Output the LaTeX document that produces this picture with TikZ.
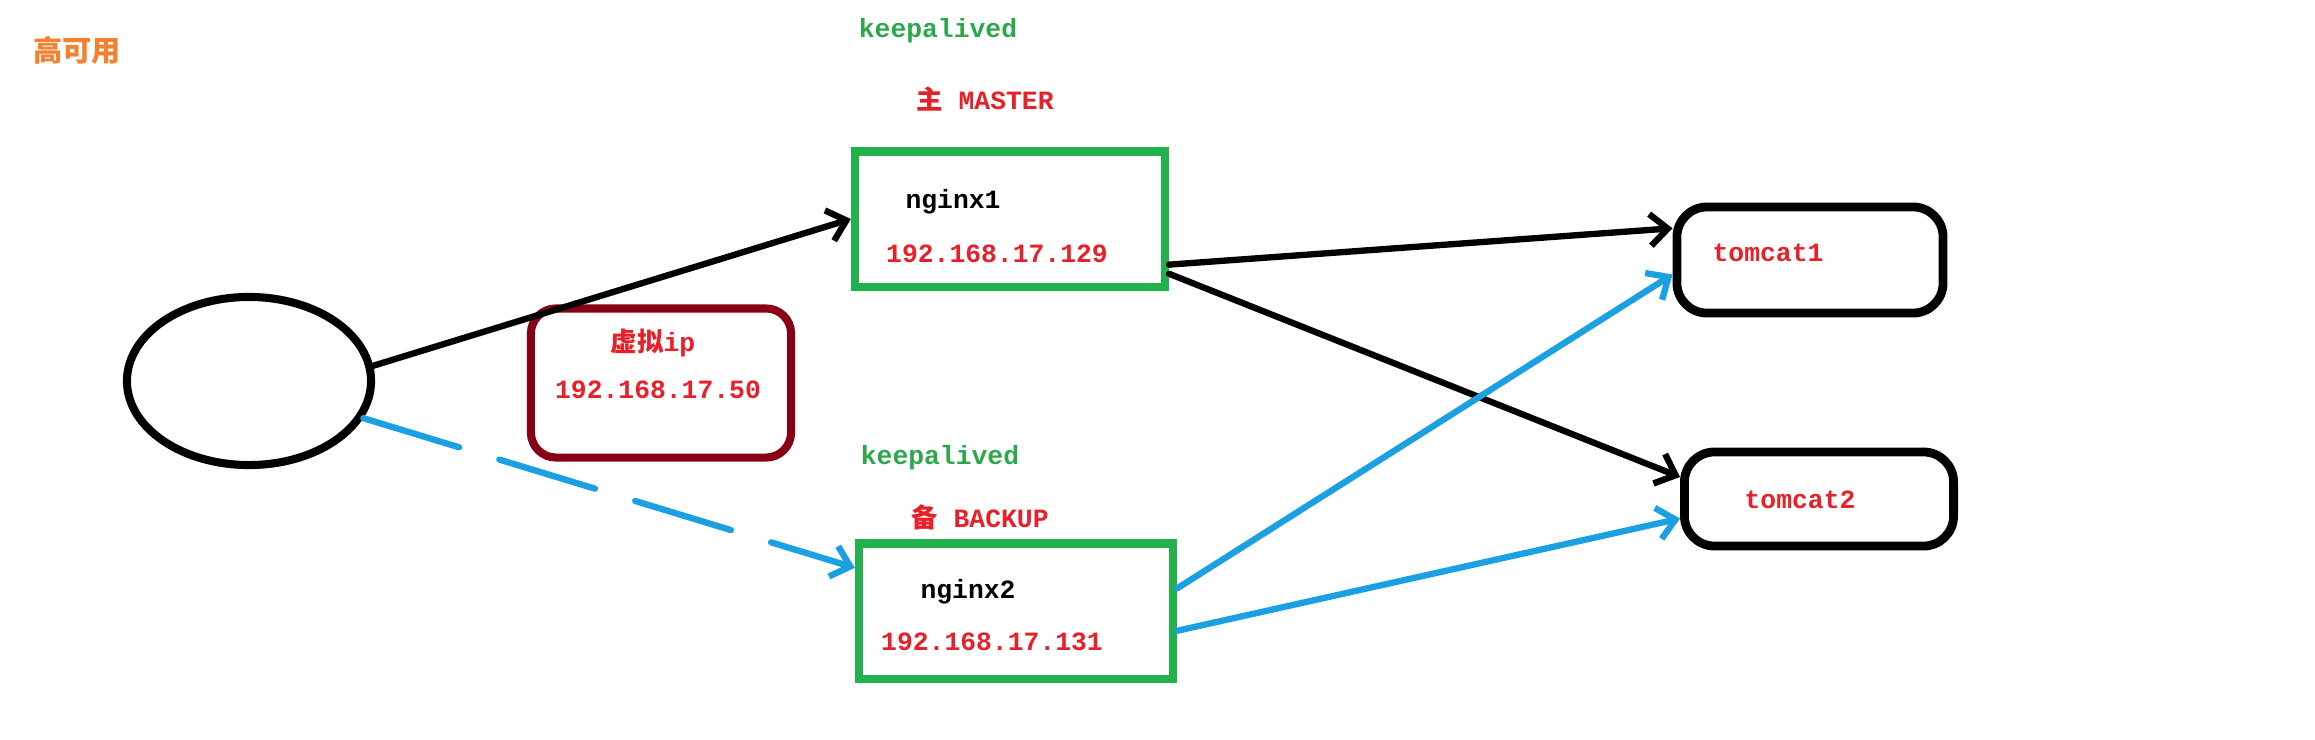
\documentclass[tikz,border=0pt]{standalone}
\usepackage{fontspec}
\setmainfont{Liberation Mono}
\newfontfamily\cjk{Noto Sans CJK SC}
\usetikzlibrary{arrows.meta,shapes.geometric}

\definecolor{boxgreen}{HTML}{22B14C}
\definecolor{txtgreen}{HTML}{2BA84A}
\definecolor{txtred}{HTML}{E8202A}
\definecolor{vipred}{HTML}{880015}
\definecolor{lineblue}{HTML}{1BA1E2}
\definecolor{titleorange}{HTML}{F3812F}

\begin{document}
\begin{tikzpicture}[x=0.01cm,y=-0.01cm,
    txt/.style={inner sep=0pt,font=\bfseries\fontsize{7.5}{9}\selectfont},
    server/.style={draw=boxgreen,line width=2.3pt,minimum width=3.1cm,minimum height=1.35cm,inner sep=0pt},
    tomcatbox/.style={draw=black,line width=2.5pt,rounded corners=0.3cm,inner sep=0pt},
    link/.style={line width=1.8pt,line cap=round,-{Straight Barb[length=5pt,width=9pt]}}]
        \useasboundingbox (0,0) rectangle (2315,739);
        \node (title)   at (77,50)   [txt,text=titleorange] {\cjk\fontsize{8.3}{10}\selectfont 高可用};
        \node (client)  at (249,381) [draw,ellipse,line width=2.3pt,minimum width=2.44cm,minimum height=1.68cm,inner sep=0pt] {};
        \node (vip)     at (661,383) [draw=vipred,line width=2.3pt,rounded corners=0.25cm,minimum width=2.6cm,minimum height=1.49cm,inner sep=0pt] {};
        \node (nginx1)  at (1010,219) [server] {};
        \node (nginx2)  at (1016,611) [server,minimum width=3.14cm] {};
        \node (tomcat1) at (1810,260) [tomcatbox,minimum width=2.66cm,minimum height=1.06cm] {};
        \node (tomcat2) at (1819,499) [tomcatbox,minimum width=2.69cm,minimum height=0.94cm] {};
        %% labels
        \node (kaTop)   at (938,31)  [txt,text=txtgreen] {keepalived};
        \node (master)  at (985,99)  [txt,text=txtred] {{\cjk 主} MASTER};
        \node (n1name)  at (953,202) [txt] {nginx1};
        \node (n1ip)    at (997,254) [txt,text=txtred] {192.168.17.129};
        \node (vipname) at (653,343) [txt,text=txtred] {{\cjk 虚拟}ip};
        \node (vipip)   at (658,390) [txt,text=txtred] {192.168.17.50};
        \node (kaBot)   at (940,458) [txt,text=txtgreen] {keepalived};
        \node (backup)  at (980,517) [txt,text=txtred] {{\cjk 备} BACKUP};
        \node (n2name)  at (968,592) [txt] {nginx2};
        \node (n2ip)    at (992,642) [txt,text=txtred] {192.168.17.131};
        \node (t1name)  at (1768,253) [txt,text=txtred] {tomcat1};
        \node (t2name)  at (1800,500) [txt,text=txtred] {tomcat2};
        %% connections
        \draw[link] (client.7) -- (nginx1.west);
        \draw[link,lineblue,dash pattern=on 1cm off 0.42cm] (client.-18) -- (nginx2.165);
        \draw[link] (nginx1.-16) -- (tomcat1.167);
        \draw[link] (nginx1.-19) -- (tomcat2.171);
        \draw[link,lineblue] (nginx2.8) -- (tomcat1.-174);
        \draw[link,lineblue] (nginx2.-7) -- (tomcat2.-172);
      \end{tikzpicture}
\end{document}
